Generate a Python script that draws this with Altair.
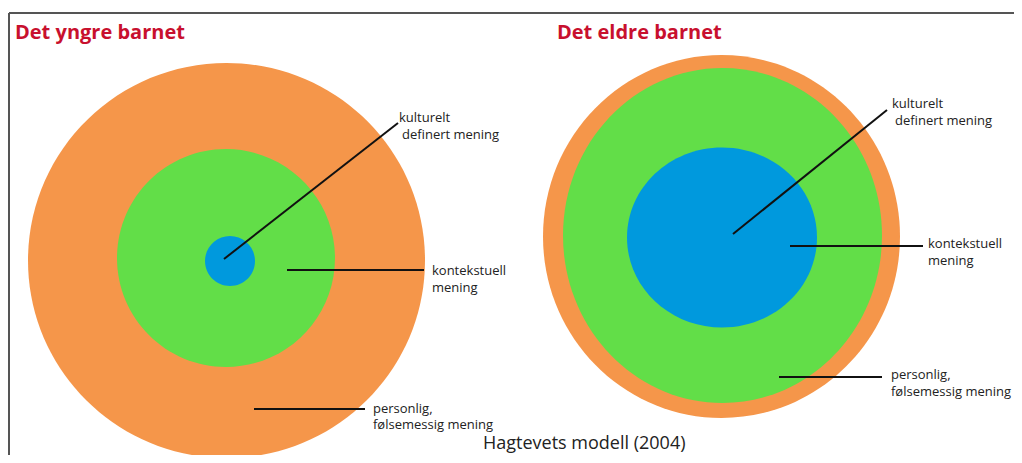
import altair as alt
import pandas as pd

# ---- circles (ellipses): centre, radii, fill ----
circle_group = ["yngre", "yngre", "yngre", "eldre", "eldre", "eldre"]
circle_x = [226.5, 226, 230, 721.5, 722.5, 722]
circle_y = [260.5, 258, 261, 236.5, 235.5, 237.5]
circle_rx = [198.5, 109, 25, 178.5, 159.5, 95]
circle_ry = [197.5, 109, 25, 181.5, 167.5, 90]
circle_fill = ["#F5964A", "#62DE48", "#0099DD", "#F5964A", "#62DE48", "#0099DD"]

# ---- leader lines ----
line_x1 = [224, 287, 254, 733, 790, 779]
line_y1 = [259, 270, 409, 234, 246, 377]
line_x2 = [398, 424, 365, 887, 923, 882]
line_y2 = [123, 270, 409, 110, 246, 377]

# ---- labels ----
label_text = ["kulturelt", "definert mening", "kontekstuell", "mening",
              "personlig,", "følsemessig mening",
              "kulturelt", "definert mening", "kontekstuell", "mening",
              "personlig,", "følsemessig mening"]
label_x = [399, 402, 432, 432, 373, 373, 892, 895, 928, 928, 891, 891]
label_y = [118, 135, 271, 288, 409, 425, 104, 121, 244, 261, 375, 392]

title_text = ["Det yngre barnet", "Det eldre barnet"]
title_x = [15, 557]
title_y = [33, 33]

caption_text = ["Hagtevets modell (2004)"]
caption_x = [483]
caption_y = [444]

# ---- frame (top and left edges) ----
frame_x1 = [9, 9]
frame_y1 = [13, 13]
frame_x2 = [1014, 9]
frame_y2 = [13, 455]

W, H = 1006, 447
xs = alt.Scale(domain=[8, 8 + W], zero=False, nice=False)
ys = alt.Scale(domain=[8, 8 + H], zero=False, nice=False, reverse=True)
FONT = "Open Sans"


def ellipse_path(k):
    c = 0.5523
    return (f"M -1 0 C -1 {-k*c:.4f} {-c} {-k:.4f} 0 {-k:.4f} "
            f"C {c} {-k:.4f} 1 {-k*c:.4f} 1 0 "
            f"C 1 {k*c:.4f} {c} {k:.4f} 0 {k:.4f} "
            f"C {-c} {k:.4f} -1 {k*c:.4f} -1 0 Z")


circles = pd.DataFrame({
    "group": circle_group, "x": circle_x, "y": circle_y,
    "rx": circle_rx, "ry": circle_ry, "fill": circle_fill,
})
circles["order"] = range(len(circles))
circles["size"] = (2 * circles["rx"]) ** 2
circles["shape"] = [ellipse_path(ry / rx) for rx, ry in zip(circle_rx, circle_ry)]

lines = pd.DataFrame({"x": line_x1, "y": line_y1, "x2": line_x2, "y2": line_y2})
frame = pd.DataFrame({"x": frame_x1, "y": frame_y1, "x2": frame_x2, "y2": frame_y2})
labels = pd.DataFrame({"text": label_text, "x": label_x, "y": label_y})
titles = pd.DataFrame({"text": title_text, "x": title_x, "y": title_y})
caption = pd.DataFrame({"text": caption_text, "x": caption_x, "y": caption_y})

circle_layer = alt.Chart(circles).mark_point(filled=True, opacity=1, strokeWidth=0).encode(
    x=alt.X("x:Q", scale=xs, axis=None),
    y=alt.Y("y:Q", scale=ys, axis=None),
    size=alt.Size("size:Q", scale=None, legend=None),
    shape=alt.Shape("shape:N", scale=None, legend=None),
    color=alt.Color("fill:N", scale=None, legend=None),
    order=alt.Order("order:Q"),
)

line_layer = alt.Chart(lines).mark_rule(color="#111111", strokeWidth=2).encode(
    x=alt.X("x:Q", scale=xs, axis=None), y=alt.Y("y:Q", scale=ys, axis=None),
    x2="x2:Q", y2="y2:Q",
)

frame_layer = alt.Chart(frame).mark_rule(color="#555555", strokeWidth=2).encode(
    x=alt.X("x:Q", scale=xs, axis=None), y=alt.Y("y:Q", scale=ys, axis=None),
    x2="x2:Q", y2="y2:Q",
)

label_layer = alt.Chart(labels).mark_text(
    align="left", baseline="middle", font=FONT, fontSize=13, color="#222222"
).encode(
    x=alt.X("x:Q", scale=xs, axis=None), y=alt.Y("y:Q", scale=ys, axis=None), text="text:N"
)

title_layer = alt.Chart(titles).mark_text(
    align="left", baseline="middle", font=FONT, fontSize=20, fontWeight="bold", color="#C8102E"
).encode(
    x=alt.X("x:Q", scale=xs, axis=None), y=alt.Y("y:Q", scale=ys, axis=None), text="text:N"
)

caption_layer = alt.Chart(caption).mark_text(
    align="left", baseline="middle", font=FONT, fontSize=18, color="#222222"
).encode(
    x=alt.X("x:Q", scale=xs, axis=None), y=alt.Y("y:Q", scale=ys, axis=None), text="text:N"
)

chart = alt.layer(
    frame_layer, circle_layer, line_layer, label_layer, title_layer, caption_layer
).properties(
    width=W, height=H, padding=0, autosize=alt.AutoSizeParams(type="none"),
    background="white",
).configure_view(stroke=None)

chart.save("out.html", embed_options={"renderer": "svg", "actions": False})
